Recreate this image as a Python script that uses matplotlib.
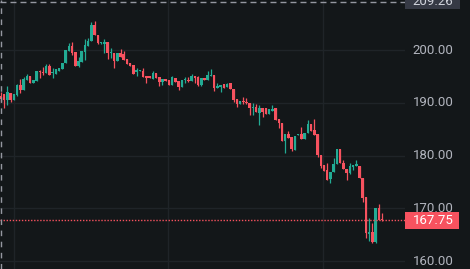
import matplotlib
matplotlib.use('Agg')
import matplotlib.pyplot as plt
import matplotlib.transforms as mtrans
from matplotlib.patches import Rectangle
import numpy as np

# OHLC, one candle per entry
opens = [191.33, 191.71, 190.57, 191.90, 190.57, 191.52, 193.42, 192.47, 194.37, 195.12,
         193.80, 194.18, 196.07, 195.88, 195.69, 197.02, 195.69, 195.50, 196.07, 196.45,
         197.59, 199.87, 200.82, 199.68, 197.02, 197.78, 199.68, 200.82, 201.77, 204.80,
         202.90, 201.39, 201.20, 201.58, 199.49, 199.49, 197.97, 199.49, 199.30, 198.35,
         197.59, 197.21, 195.88, 196.07, 196.07, 195.12, 195.12, 194.55, 195.69, 194.93,
         193.99, 194.55, 194.37, 193.42, 194.74, 194.18, 193.04, 194.37, 194.37, 194.18,
         195.12, 194.93, 193.42, 194.74, 194.37, 195.12, 195.31, 192.85, 193.04, 193.61,
         193.04, 193.80, 192.66, 190.76, 189.81, 190.38, 190.19, 190.00, 189.05, 189.24,
         188.10, 189.05, 189.05, 187.92, 188.48, 189.05, 186.96, 186.21, 182.79, 184.12,
         183.55, 181.08, 183.93, 184.12, 183.17, 184.31, 186.02, 184.88, 184.12, 180.13,
         178.24, 177.29, 175.58, 176.91, 178.43, 181.27, 178.62, 177.48, 176.72, 177.86,
         178.05, 178.05, 175.77, 172.17, 165.14, 165.52, 163.63, 170.08, 167.80]
highs = [192.09, 191.71, 193.23, 191.90, 191.71, 193.61, 194.55, 194.93, 195.50, 195.12,
         194.37, 196.07, 196.26, 196.83, 197.40, 197.40, 196.64, 196.45, 196.64, 197.59,
         200.06, 201.39, 201.58, 199.68, 198.73, 199.87, 202.15, 202.33, 205.37, 205.56,
         202.90, 201.58, 202.15, 201.58, 200.44, 199.49, 199.49, 200.25, 199.87, 198.35,
         197.59, 197.21, 196.64, 196.26, 196.64, 195.12, 195.12, 196.07, 195.69, 194.93,
         194.55, 194.55, 194.37, 195.12, 194.74, 194.18, 194.37, 194.93, 194.93, 195.50,
         195.12, 195.12, 194.74, 194.74, 196.07, 196.45, 195.31, 193.80, 193.42, 193.61,
         193.80, 193.80, 192.66, 190.76, 190.38, 191.14, 190.95, 190.00, 190.00, 189.81,
         189.62, 189.05, 189.05, 188.86, 189.62, 189.05, 186.96, 186.21, 184.12, 184.69,
         183.55, 183.74, 184.12, 185.45, 184.31, 186.77, 186.02, 186.96, 184.12, 180.13,
         178.24, 178.62, 176.91, 179.56, 181.27, 181.27, 179.18, 177.48, 178.62, 178.24,
         179.18, 178.05, 175.77, 172.17, 168.18, 167.23, 170.08, 170.84, 169.13]
lows = [190.19, 189.05, 189.62, 190.19, 190.57, 191.33, 191.90, 192.47, 194.37, 193.80,
        193.80, 194.18, 194.74, 195.31, 195.69, 195.31, 194.74, 195.50, 196.07, 196.45,
        197.59, 199.87, 199.11, 197.02, 196.83, 197.78, 198.16, 200.82, 201.77, 202.90,
        201.20, 201.20, 199.49, 198.35, 198.54, 196.64, 197.97, 198.73, 198.16, 197.40,
        197.02, 195.50, 195.12, 196.07, 194.93, 193.80, 194.74, 194.55, 194.74, 193.23,
        193.42, 194.18, 193.42, 193.42, 193.99, 192.47, 193.04, 193.80, 193.99, 194.18,
        193.80, 193.23, 193.23, 194.37, 194.37, 195.12, 192.28, 192.85, 192.09, 192.85,
        193.04, 192.66, 190.19, 189.24, 189.81, 189.81, 189.81, 187.72, 187.72, 188.30,
        185.83, 187.34, 187.92, 187.92, 188.48, 186.77, 185.26, 182.79, 180.51, 183.36,
        180.89, 181.08, 183.93, 183.17, 183.17, 184.31, 184.69, 183.93, 179.75, 177.67,
        177.10, 175.39, 174.82, 176.91, 178.43, 178.62, 177.48, 175.39, 176.53, 177.29,
        178.05, 175.77, 171.22, 164.39, 163.82, 163.44, 163.44, 167.80, 167.61]
closes = [190.76, 190.57, 192.09, 190.57, 191.71, 193.42, 192.47, 194.55, 195.12, 193.80,
          194.37, 196.07, 195.88, 195.69, 197.02, 195.31, 195.88, 196.45, 196.64, 197.59,
          200.06, 200.82, 199.49, 197.02, 197.97, 199.87, 201.01, 201.77, 204.80, 202.90,
          201.39, 201.58, 201.58, 199.49, 199.68, 197.97, 199.49, 198.73, 198.16, 197.40,
          197.02, 195.50, 196.26, 196.26, 194.93, 194.74, 194.74, 195.69, 194.74, 193.99,
          194.55, 194.18, 193.42, 194.93, 193.99, 193.04, 194.37, 194.55, 194.18, 195.12,
          194.74, 193.42, 194.74, 194.37, 195.31, 195.31, 192.85, 193.23, 193.42, 192.85,
          193.61, 192.66, 190.57, 189.81, 190.38, 190.19, 190.00, 189.05, 189.24, 188.30,
          189.05, 188.30, 187.92, 188.86, 188.86, 186.77, 186.21, 182.79, 184.12, 183.36,
          181.27, 183.74, 184.12, 183.17, 184.31, 186.02, 184.69, 183.93, 180.13, 178.05,
          177.10, 175.39, 176.91, 178.43, 181.27, 178.62, 177.48, 176.72, 178.05, 178.24,
          178.43, 175.77, 171.98, 165.33, 165.52, 163.63, 170.08, 167.80, 167.75]

price_ticks = [160, 170, 180, 190, 200]
time_grid = [4.0, 51.7, 99.7]
last_price = 167.75
cross_price = 209.26

bg = '#131719'
up = '#22ab94'
down = '#f7525f'
label_col = '#b2b5be'

plt.rcParams['lines.scale_dashes'] = False
fig = plt.figure(figsize=(4.7, 2.69), dpi=100, facecolor=bg)
ax = fig.add_axes([0, 0, 405 / 470, 1])
ax.set_facecolor(bg)

o = np.array(opens)
h = np.array(highs)
l = np.array(lows)
c = np.array(closes)
x = np.arange(len(o))
cols = np.where(c >= o, up, down)

for gx in time_grid:
    ax.axvline(gx, color='#1f2428', lw=1, zorder=0)
for p in price_ticks:
    ax.axhline(p, color='#1f2428', lw=1, zorder=0)

ax.vlines(x, l, h, colors=cols, lw=0.9, zorder=2)
body = np.maximum(np.abs(c - o), 0.2)
ax.bar(x, body, bottom=np.minimum(o, c), width=0.78, color=cols, lw=0, zorder=3)

ax.axhline(last_price, color=down, lw=1, ls=(0, (1.0, 1.2)), zorder=4)
ax.axhline(cross_price, color='#9598a1', lw=1, ls=(0, (4.3, 2.9)), zorder=5)
ax.axvline(0.12, color='#9598a1', lw=1, ls=(0, (4.0, 4.0)), zorder=5)

ax.set_xlim(-0.31, 125.08)
ax.set_ylim(158.50, 209.545)
for s in ax.spines.values():
    s.set_visible(False)
ax.set_xticks([])
ax.set_yticks([])

tr = mtrans.blended_transform_factory(ax.transAxes, ax.transData)
for p in price_ticks:
    ax.text(1.0 + 28 / 405, p, f'{p:.2f}', transform=tr, ha='center', va='center',
            color=label_col, fontsize=9.5, family='Roboto', clip_on=False)

ax.add_patch(Rectangle((1.0, last_price - 1.6), 54 / 405, 3.2, transform=tr,
                       facecolor=down, edgecolor='none', clip_on=False))
ax.text(1.0 + 28 / 405, last_price, f'{last_price:.2f}', transform=tr, ha='center',
        va='center', color='white', fontsize=9.5, family='Roboto', clip_on=False)

ax.add_patch(Rectangle((1.0, cross_price - 1.5), 55 / 405, 3.4, transform=tr,
                       facecolor='#363a45', edgecolor='none', clip_on=False))
ax.text(1.0 + 28 / 405, cross_price, f'{cross_price:.2f}', transform=tr, ha='center',
        va='center', color='#d1d4dc', fontsize=9.5, family='Roboto', clip_on=False)

fig.savefig('out.png', dpi=100, facecolor=bg)
